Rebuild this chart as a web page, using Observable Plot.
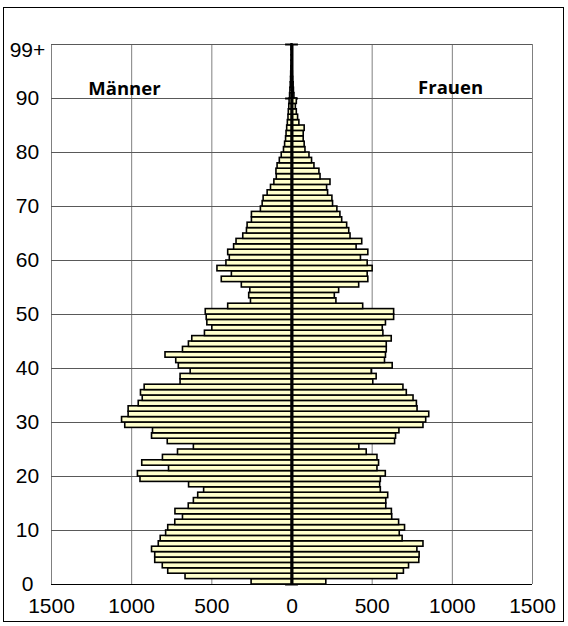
<!DOCTYPE html>
<html>
<head>
<meta charset="utf-8">
<script src="https://cdn.jsdelivr.net/npm/d3@7"></script>
<script src="https://cdn.jsdelivr.net/npm/@observablehq/plot@0.6"></script>
<style>
  html, body { margin: 0; padding: 0; background: #fff; }
  #wrap { position: relative; width: 568px; height: 626px; }
  #border { position: absolute; left: 3px; top: 7px; width: 561px; height: 615px; border: 1px solid #000; box-sizing: border-box; pointer-events: none; }
  #chart { position: absolute; left: 0; top: 0; }
</style>
</head>
<body>
<div id="wrap"><div id="chart"></div><div id="border"></div></div>
<script>
// Ages 0 .. 99 (last = 99+)
const ages = d3.range(0, 100);
const male = [
  252, 664, 772, 806, 853, 853, 873, 831, 819, 785,
  772, 728, 680, 727, 644, 612, 585, 548, 642, 945,
  961, 767, 934, 805, 711, 612, 775, 873, 867, 1040,
  1060, 1019, 1019, 956, 931, 942, 919, 695, 695, 632,
  706, 722, 789, 680, 643, 622, 543, 497, 528, 532,
  538, 398, 256, 267, 260, 313, 438, 375, 465, 409,
  388, 398, 361, 346, 304, 281, 277, 250, 250, 194,
  183, 177, 152, 131, 110, 95, 97, 90, 76, 64,
  50, 43, 37, 34, 30, 26, 22, 20, 17, 15,
  12, 10, 8, 6, 5, 4, 3, 2, 2, 3
];
const female = [
  214, 657, 698, 730, 794, 796, 782, 820, 690, 672,
  705, 668, 625, 623, 588, 588, 600, 554, 550, 554,
  585, 533, 543, 533, 466, 420, 643, 649, 670, 820,
  837, 856, 783, 779, 758, 716, 695, 507, 528, 497,
  628, 580, 586, 591, 591, 622, 570, 566, 586, 637,
  637, 444, 277, 267, 294, 419, 476, 472, 503, 472,
  430, 476, 403, 438, 365, 357, 344, 313, 302, 283,
  256, 252, 225, 219, 240, 178, 171, 140, 125, 109,
  84, 79, 73, 73, 79, 46, 38, 30, 24, 30,
  15, 12, 10, 7, 5, 4, 3, 3, 2, 3
];
const xTicks = [-1500, -1000, -500, 0, 500, 1000, 1500];
const yGrid = [0, 10, 20, 30, 40, 50, 60, 70, 80, 90, 100];
const yTicks = [0, 10, 20, 30, 40, 50, 60, 70, 80, 90, 99];
const yTickLabels = ["0", "10", "20", "30", "40", "50", "60", "70", "80", "90", "99+"];
const sideLabels = [{label: "Männer", x: -1045, y: 91.8}, {label: "Frauen", x: 989, y: 91.9}];

const rows = ages.map((a, i) => ({age: a, m: male[i], f: female[i]}));
const labelOf = new Map(yTicks.map((t, i) => [t, yTickLabels[i]]));

const chart = Plot.plot({
  width: 568,
  height: 626,
  marginLeft: 51,
  marginRight: 36,
  marginTop: 44,
  marginBottom: 42,
  style: {fontFamily: "'Liberation Sans', Arial, sans-serif", background: "transparent"},
  x: {domain: [-1500, 1500]},
  y: {domain: [0, 100]},
  marks: [
    Plot.gridX(xTicks, {stroke: "#808080", strokeOpacity: 1, strokeWidth: 1}),
    Plot.gridY(yGrid, {stroke: "#595959", strokeOpacity: 1, strokeWidth: 1}),
    Plot.ruleY(yGrid, {x1: -40, x2: 40, stroke: "#000", strokeWidth: 2}),
    Plot.rect(rows, {x1: d => -d.m, x2: 0, y1: "age", y2: d => d.age + 1, fill: "#ffffcc", stroke: "#000", strokeWidth: 1.6}),
    Plot.rect(rows, {x1: 0, x2: "f", y1: "age", y2: d => d.age + 1, fill: "#ffffcc", stroke: "#000", strokeWidth: 1.6}),
    Plot.ruleX([0], {y1: 0, y2: 100, stroke: "#000", strokeWidth: 3}),
    Plot.ruleY([0], {x1: -1500, x2: 1500, stroke: "#000", strokeWidth: 1}),
    Plot.axisX({ticks: xTicks, tickSize: 0, tickPadding: 14, tickFormat: d => String(Math.abs(d)), fontSize: 21, fill: "#000"}),
    Plot.axisY({ticks: yTicks, tickSize: 0, tickPadding: 24, textAnchor: "middle", tickFormat: d => labelOf.get(d), fontSize: 21, fill: "#000"}),
    Plot.text(sideLabels, {x: "x", y: "y", text: "label", fontSize: 18.5, fontWeight: "bold", fontFamily: "'Open Sans', Lato, sans-serif", fill: "#000"})
  ]
});
document.getElementById("chart").appendChild(chart);
</script>
</body>
</html>
